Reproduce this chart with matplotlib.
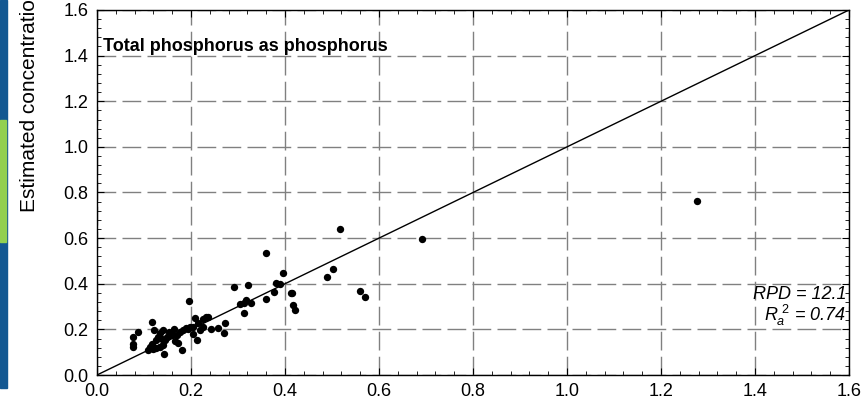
import numpy as np
import matplotlib
matplotlib.use('Agg')
import matplotlib.pyplot as plt
from matplotlib.patches import Rectangle
from matplotlib.ticker import MultipleLocator

plt.rcParams['font.family'] = ['Liberation Sans', 'DejaVu Sans']
plt.rcParams['mathtext.fontset'] = 'custom'
plt.rcParams['mathtext.rm'] = 'Liberation Sans'
plt.rcParams['mathtext.it'] = 'Liberation Sans:italic'

# measured vs estimated concentration, total phosphorus
measured = [0.36, 0.396, 0.291, 0.322, 0.196, 0.381, 0.389, 0.377, 0.36, 0.413,
            0.417, 0.421, 0.304, 0.313, 0.317, 0.328, 0.313, 0.272, 0.270, 0.257,
            0.243, 0.232, 0.236, 0.226, 0.209, 0.215, 0.204, 0.212, 0.198, 0.194,
            0.177, 0.183, 0.164, 0.170, 0.173, 0.181, 0.153, 0.149, 0.145, 0.140,
            0.134, 0.140, 0.143, 0.134, 0.130, 0.126, 0.121, 0.117, 0.117, 0.113,
            0.109, 0.119, 0.126, 0.087, 0.077, 0.077, 0.077, 0.204, 0.225, 0.219,
            0.517, 0.691, 0.502, 0.489, 0.560, 0.570, 0.414, 1.277, 0.160, 0.190,
            0.156, 0.166, 0.138]
estimated = [0.535, 0.447, 0.386, 0.395, 0.325, 0.404, 0.399, 0.364, 0.333, 0.359,
             0.307, 0.285, 0.311, 0.316, 0.329, 0.316, 0.272, 0.228, 0.184, 0.206,
             0.202, 0.254, 0.254, 0.245, 0.250, 0.228, 0.211, 0.154, 0.211, 0.202,
             0.189, 0.197, 0.202, 0.175, 0.140, 0.110, 0.189, 0.167, 0.154, 0.197,
             0.184, 0.132, 0.092, 0.123, 0.167, 0.154, 0.197, 0.233, 0.136, 0.123,
             0.110, 0.114, 0.118, 0.189, 0.167, 0.136, 0.123, 0.180, 0.211, 0.197,
             0.640, 0.596, 0.465, 0.430, 0.368, 0.342, 0.360, 0.763, 0.175, 0.205,
             0.180, 0.150, 0.160]

title = 'Total phosphorus as phosphorus'
rpd = 12.1
r2 = 0.74

fig = plt.figure(figsize=(8.65, 4.08), dpi=100)
W, H = 865, 408

# page decoration on the left edge
fig.patches.append(Rectangle((0, 20 / H), 7 / W, 388 / H, transform=fig.transFigure,
                             color='#135892', zorder=0))
fig.patches.append(Rectangle((0, (H - 242) / H), 6 / W, 122 / H, transform=fig.transFigure,
                             color='#92d050', zorder=1))

ax = fig.add_axes([97 / W, 33 / H, 752 / W, 365 / H])

ax.plot([0, 1.6], [0, 1.6], color='black', lw=1, zorder=2)
ax.scatter(measured, estimated, s=28, color='black', zorder=3, linewidths=0)

ax.set_xlim(0, 1.6)
ax.set_ylim(0, 1.6)
ax.xaxis.set_major_locator(MultipleLocator(0.2))
ax.yaxis.set_major_locator(MultipleLocator(0.2))
ax.xaxis.set_minor_locator(MultipleLocator(0.04))
ax.yaxis.set_minor_locator(MultipleLocator(0.04))
ax.xaxis.set_major_formatter(lambda v, p: '{:.1f}'.format(v))
ax.yaxis.set_major_formatter(lambda v, p: '{:.1f}'.format(v))
ax.tick_params(which='both', direction='in', top=True, right=True, labelsize=13)
ax.tick_params(which='major', length=5, pad=6)
ax.tick_params(which='minor', length=3)
for s in ax.spines.values():
    s.set_linewidth(1)

ax.grid(True, which='major', color='#808080', lw=1, linestyle=(0, (13.5, 4.5)))

ax.text(0.012, 1.42, title, fontsize=13, fontweight='bold', va='baseline')
ax.text(1.594, 0.333, 'RPD = ' + str(rpd), fontsize=13, style='italic',
        ha='right', va='baseline')
ax.text(1.594, 0.237, r'$R_a^{\ 2}$ = ' + str(r2), fontsize=13, style='italic',
        ha='right', va='baseline')

fig.text(30 / W, (H - 212) / H, 'Estimated concentration', fontsize=15,
         rotation=90, ha='center', va='bottom')

fig.savefig('out.png', dpi=100)
